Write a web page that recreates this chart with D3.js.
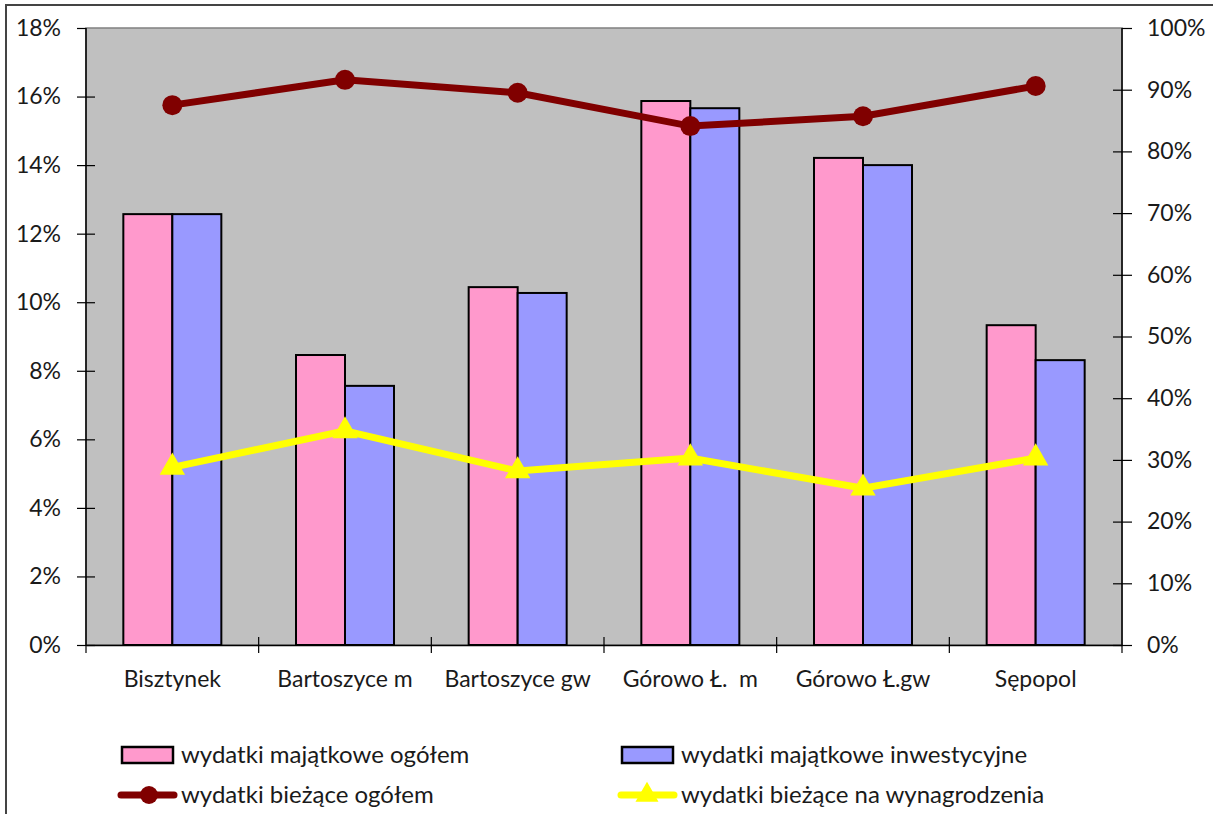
<!DOCTYPE html>
<html><head><meta charset="utf-8">
<script src="https://cdn.jsdelivr.net/npm/d3@7"></script>
<style>
html,body{margin:0;padding:0;background:#fff;}
svg text{font-family:Lato,"Open Sans",sans-serif;fill:#1a1a1a;}
</style></head>
<body><svg id="c" width="1213" height="814"></svg>
<script>
const categories = ["Bisztynek","Bartoszyce m","Bartoszyce gw","Górowo Ł.  m","Górowo Ł.gw","Sępopol"];
const majatkoweOgolem = [12.57, 8.46, 10.44, 15.87, 14.21, 9.33];
const majatkoweInwest = [12.57, 7.56, 10.27, 15.66, 14.00, 8.31];
const biezaceOgolem = [87.5, 91.6, 89.5, 84.1, 85.7, 90.6];
const biezaceWynagr = [28.8, 34.7, 28.2, 30.3, 25.4, 30.3];
const leftTicks = [0,2,4,6,8,10,12,14,16,18];
const rightTicks = [0,10,20,30,40,50,60,70,80,90,100];
const seriesNames = ["wydatki majątkowe ogółem","wydatki majątkowe inwestycyjne","wydatki bieżące ogółem","wydatki bieżące na wynagrodzenia"];
const colors = {pink:"#ff99cc", blue:"#9999ff", dark:"#800000", yellow:"#ffff00", plot:"#c0c0c0"};

const svg = d3.select("#c");
const L=86, R=1122, T=28, B=645;
const FS = 23, LFS = 24;

// outer border
svg.append("rect").attr("x",6).attr("y",5).attr("width",1240).attr("height",900)
  .attr("fill","#fff").attr("stroke","#444").attr("stroke-width",2);

svg.append("rect").attr("x",L).attr("y",T).attr("width",R-L).attr("height",B-T)
  .attr("fill",colors.plot).attr("stroke","#808080").attr("stroke-width",1.5);

const x0 = d3.scaleBand().domain(categories).range([L,R]);
const yL = d3.scaleLinear().domain([0,18]).range([B,T]);
const yR = d3.scaleLinear().domain([0,100]).range([B,T]);
const xc = (c)=>x0(c)+x0.bandwidth()/2;

// bars
const barW = 49;
const g = svg.append("g");
categories.forEach((c,i)=>{
  const cx = xc(c);
  [[majatkoweOgolem[i],colors.pink,-barW],[majatkoweInwest[i],colors.blue,0]].forEach(([v,col,off])=>{
    g.append("rect").attr("x",cx+off).attr("y",yL(v)).attr("width",barW).attr("height",B-yL(v))
     .attr("fill",col).attr("stroke","#000").attr("stroke-width",2);
  });
});

// axes
const axL = svg.append("g").attr("transform",`translate(${L},0)`)
  .call(d3.axisLeft(yL).tickValues(leftTicks).tickFormat(d=>d+"%").tickSize(9).tickPadding(16));
const axR = svg.append("g").attr("transform",`translate(${R},0)`)
  .call(d3.axisRight(yR).tickValues(rightTicks).tickFormat(d=>d+"%").tickSize(10).tickPadding(15));
[axL,axR].forEach(a=>{
  a.selectAll("text").attr("font-size",FS).attr("fill","#1a1a1a");
  a.select(".domain").remove();
  a.selectAll(".tick line").attr("stroke","#000").attr("stroke-width",1.2);
});
axL.selectAll(".tick line").attr("x1",-9).attr("x2",d=>d===18?0:9);
axR.selectAll(".tick line").attr("x1",d=>d===100?0:-9).attr("x2",10);
svg.append("line").attr("x1",L).attr("x2",L).attr("y1",T).attr("y2",B).attr("stroke","#000").attr("stroke-width",1.5);
svg.append("line").attr("x1",R).attr("x2",R).attr("y1",T).attr("y2",B).attr("stroke","#000").attr("stroke-width",1.5);

const axB = svg.append("g").attr("transform",`translate(0,${B})`)
  .call(d3.axisBottom(x0).tickSize(0).tickPadding(0));
axB.select(".domain").attr("stroke","#000").attr("stroke-width",1.5);
axB.selectAll("text").attr("font-size",FS).attr("y",42).attr("dy",0).style("white-space","pre").attr("fill","#1a1a1a");
// category boundary ticks
const bounds = categories.map(c=>x0(c)).concat([R]);
svg.append("g").selectAll("line").data(bounds).join("line")
  .attr("x1",d=>d).attr("x2",d=>d).attr("y1",(d,i)=>(i===0||i===bounds.length-1)?B:B-8).attr("y2",B+8)
  .attr("stroke","#000").attr("stroke-width",1.2);

// lines
const line = d3.line().x((d,i)=>xc(categories[i])).y(d=>yR(d));
svg.append("path").datum(biezaceOgolem).attr("d",line).attr("fill","none")
  .attr("stroke",colors.dark).attr("stroke-width",7);
svg.append("g").selectAll("circle").data(biezaceOgolem).join("circle")
  .attr("cx",(d,i)=>xc(categories[i])).attr("cy",d=>yR(d)).attr("r",10).attr("fill",colors.dark);
svg.append("path").datum(biezaceWynagr).attr("d",line).attr("fill","none")
  .attr("stroke",colors.yellow).attr("stroke-width",7);
const tri = d3.symbol().type(d3.symbolTriangle).size(280);
svg.append("g").selectAll("path").data(biezaceWynagr).join("path")
  .attr("transform",(d,i)=>`translate(${xc(categories[i])},${yR(d)})`).attr("d",tri).attr("fill",colors.yellow);

// legend
const leg = svg.append("g");
const legItems = [
  {name:seriesNames[0], type:"bar", col:colors.pink, x:121, y:755},
  {name:seriesNames[1], type:"bar", col:colors.blue, x:621, y:755},
  {name:seriesNames[2], type:"circle", col:colors.dark, x:121, y:795},
  {name:seriesNames[3], type:"tri", col:colors.yellow, x:621, y:795},
];
legItems.forEach(it=>{
  if(it.type==="bar"){
    leg.append("rect").attr("x",it.x+1).attr("y",it.y-8).attr("width",51).attr("height",16)
      .attr("fill",it.col).attr("stroke","#000").attr("stroke-width",2.5);
  } else {
    leg.append("line").attr("x1",it.x).attr("x2",it.x+53).attr("y1",it.y).attr("y2",it.y)
      .attr("stroke",it.col).attr("stroke-width",7).attr("stroke-linecap","round");
    if(it.type==="circle") leg.append("circle").attr("cx",it.x+28).attr("cy",it.y).attr("r",9).attr("fill",it.col);
    else leg.append("path").attr("transform",`translate(${it.x+26},${it.y})`).attr("d",d3.symbol().type(d3.symbolTriangle).size(230)).attr("fill",it.col);
  }
  leg.append("text").attr("x",it.x+60).attr("y",it.y+8).attr("font-size",LFS).text(it.name);
});
</script></body></html>
